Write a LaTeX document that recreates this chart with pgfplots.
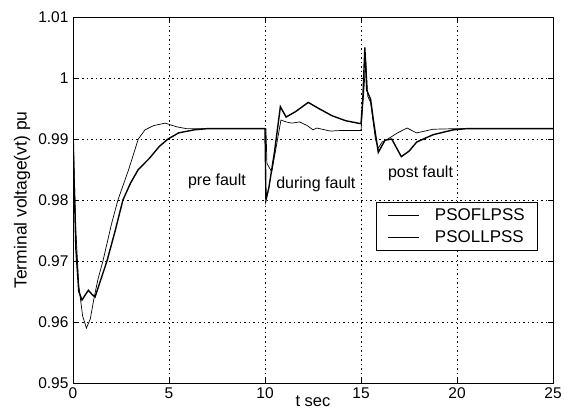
\documentclass[border=0pt]{standalone}
\usepackage{fontspec}
\setmainfont{Liberation Sans}
\usepackage{pgfplots}
\pgfplotsset{compat=1.18}
\begin{document}
\begin{tikzpicture}
\begin{axis}[
  at={(0pt,0pt)}, anchor=south west,
  scale only axis, width=480pt, height=366pt,
  xmin=0, xmax=25, ymin=0.95, ymax=1.01,
  xtick={0,5,10,15,20,25},
  ytick={0.95,0.96,0.97,0.98,0.99,1,1.01},
  yticklabels={0.95,0.96,0.97,0.98,0.99,1,1.01},
  xticklabels={0,5,10,15,20,25},
  tick align=inside, major tick length=5pt,
  tick style={black, line width=0.6pt},
  axis line style={black, line width=0.8pt},
  grid=major,
  major grid style={black, line width=0.7pt, dash pattern=on 1.5pt off 3pt},
  ticklabel style={font=\fontsize{15.5}{17}\selectfont},
  yticklabel style={xshift=-1pt},
  xticklabel style={yshift=-1pt},
  xlabel={t sec},
  xlabel style={font=\fontsize{16.5}{18}\selectfont, at={(axis description cs:0.5,0)}, anchor=center, yshift=-18.5pt},
  ylabel={Terminal voltage(vt) pu},
  ylabel style={font=\fontsize{17.5}{19}\selectfont, at={(axis description cs:-0.106,0.5)}, anchor=center},
  legend style={at={(0.969,0.4945)}, anchor=north east, draw=black, line width=0.8pt,
    font=\fontsize{17}{19}\selectfont, inner xsep=11pt, inner ysep=4pt, row sep=5pt,
    cells={anchor=west},
    /tikz/every odd column/.append style={column sep=13pt}},
  legend cell align=left,
  legend image code/.code={\draw[#1] (0pt,0pt) -- (31pt,0pt);},
]
\addplot[black, line width=0.7pt] coordinates {
(0,0.9917)(0.05,0.986)(0.15,0.975)(0.3,0.966)(0.5,0.961)(0.7,0.959)(0.9,0.9605)(1.1,0.964)(1.3,0.967)(1.56,0.970)(2.0,0.976)(2.34,0.980)(2.9,0.985)(3.4,0.990)(3.75,0.9915)(4.2,0.9922)(4.8,0.9926)(5.4,0.992)(5.9,0.9917)(10,0.9917)(10.05,0.9917)(10.1,0.986)(10.35,0.9846)(10.6,0.989)(10.83,0.9931)(11.1,0.9928)(11.4,0.9926)(11.8,0.9928)(12.2,0.9922)(12.5,0.9915)(12.7,0.9918)(13.4,0.9913)(14,0.9914)(15,0.9914)(15.15,0.998)(15.25,1.003)(15.35,0.997)(15.5,0.996)(15.75,0.990)(15.9,0.9885)(16.1,0.9895)(16.4,0.990)(16.9,0.991)(17.4,0.9918)(17.9,0.991)(18.75,0.9916)(20,0.9917)(25,0.9917)
};
\addlegendentry{PSOFLPSS}
\addplot[black, line width=1.4pt] coordinates {
(0,0.9917)(0.05,0.984)(0.15,0.972)(0.3,0.965)(0.47,0.9636)(0.65,0.9645)(0.8,0.9652)(1.0,0.9645)(1.15,0.9641)(1.4,0.9665)(1.77,0.970)(2.2,0.975)(2.6,0.980)(3.0,0.9828)(3.4,0.985)(3.97,0.9868)(4.5,0.9888)(4.95,0.990)(5.5,0.991)(6.3,0.9915)(7,0.9917)(10,0.9917)(10.05,0.980)(10.2,0.982)(10.5,0.988)(10.8,0.9953)(11.1,0.9936)(11.6,0.9945)(12.25,0.996)(12.8,0.995)(13.5,0.9938)(14.2,0.993)(15.0,0.9925)(15.1,0.997)(15.2,1.005)(15.3,0.998)(15.5,0.9965)(15.65,0.993)(15.9,0.9878)(16.25,0.9898)(16.6,0.990)(17.1,0.9871)(17.5,0.988)(17.9,0.9895)(18.75,0.9907)(19.8,0.9915)(20.5,0.9917)(25,0.9917)
};
\addlegendentry{PSOLLPSS}
\node[font=\fontsize{16}{18}\selectfont] at (axis cs:7.5,0.983) {pre fault};
\node[font=\fontsize{16}{18}\selectfont] at (axis cs:12.65,0.9825) {during fault};
\node[font=\fontsize{16}{18}\selectfont] at (axis cs:18.1,0.9844) {post fault};
\end{axis}
\pgfresetboundingbox
\path (-73pt,-26pt) rectangle (491pt,383pt);
\end{tikzpicture}
\end{document}
